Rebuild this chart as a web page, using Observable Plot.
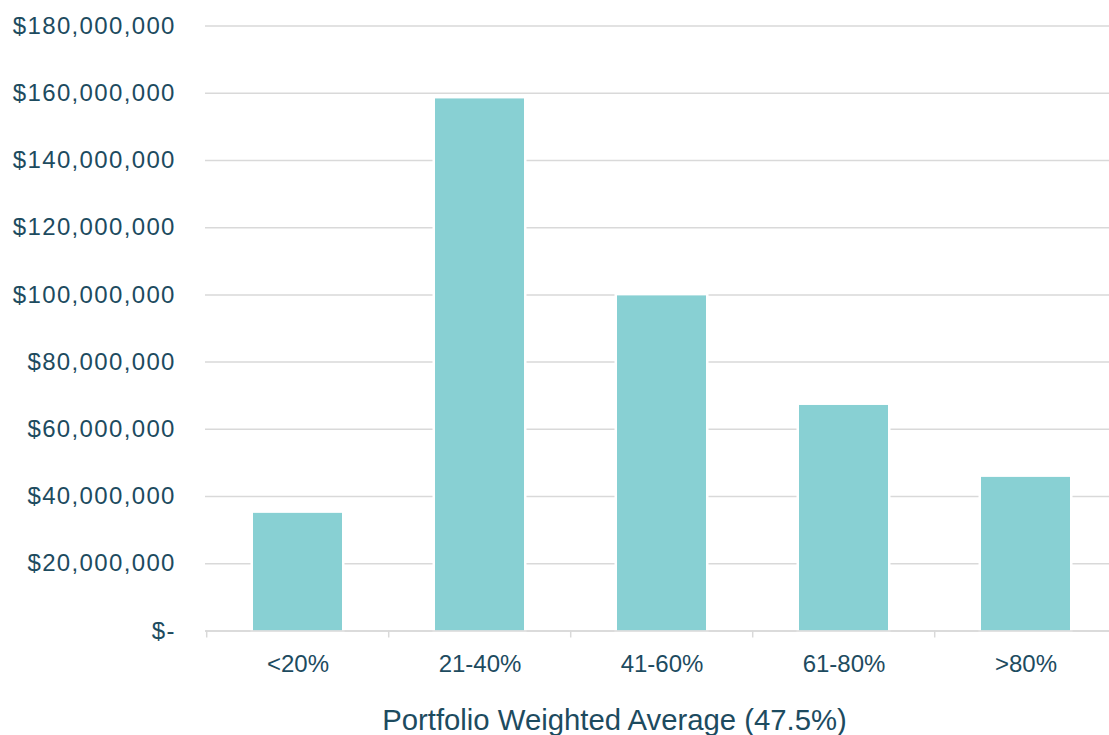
<!DOCTYPE html>
<html>
<head>
<meta charset="utf-8">
<script src="https://cdn.jsdelivr.net/npm/d3@7"></script>
<script src="https://cdn.jsdelivr.net/npm/@observablehq/plot@0.6"></script>
<style>
  html, body { margin: 0; padding: 0; background: #fff; }
  #chart { width: 1109px; height: 735px; overflow: hidden; }
  #chart [aria-label="y-axis tick label"] text { letter-spacing: 1.35px; }
</style>
</head>
<body>
<div id="chart"></div>
<script>
// Exposure by loan-to-value bucket
const buckets = ["<20%", "21-40%", "41-60%", "61-80%", ">80%"];
const amounts = [35000000, 158300000, 99700000, 67100000, 45700000];
const yTicks = [0, 20000000, 40000000, 60000000, 80000000, 100000000, 120000000, 140000000, 160000000, 180000000];
const axisTitle = "Portfolio Weighted Average (47.5%)";

const data = buckets.map((b, i) => ({bucket: b, amount: amounts[i]}));

const textColor = "#1d4b5f";
const gridColor = "#d9d9d9";
const barColor = "#88d0d3";

const width = 1109, height = 735;
const xRange = [205, 1118];
const bandW = (xRange[1] - xRange[0]) / buckets.length;

const money = d => d === 0 ? "$-" : "$" + d3.format(",")(d);

const chart = Plot.plot({
  width,
  height,
  marginLeft: 205,
  marginRight: 0,
  marginTop: 25.5,
  marginBottom: 104.5,
  style: {fontFamily: "'Liberation Sans', Arial, sans-serif", color: textColor, background: "#fff"},
  x: {domain: buckets, range: xRange, padding: 0.51, paddingOuter: 0.255, align: 0.5},
  y: {domain: [0, 180000000], range: [630.5, 25.5]},
  marks: [
    Plot.ruleY(yTicks, {stroke: gridColor, strokeWidth: 1.5, strokeOpacity: 1}),
    Plot.barY(data, {x: "bucket", y: "amount", fill: barColor, stroke: "#fff", strokeWidth: 5, paintOrder: "stroke"}),
    Plot.ruleY([0], {stroke: gridColor, strokeWidth: 1.5, strokeOpacity: 1}),
    // tick marks on the category boundaries
    Plot.axisX({tickSize: 7, tickFormat: () => "", dx: -bandW / 2, stroke: gridColor, strokeWidth: 1.5, strokeOpacity: 1, label: null}),
    Plot.axisX({tickSize: 0, tickPadding: 24, fontSize: 24, fill: textColor, label: null}),
    Plot.axisY({ticks: yTicks, tickFormat: money, tickSize: 0, tickPadding: 29.7, fontSize: 24, fill: textColor, label: null}),
    Plot.text([axisTitle], {frameAnchor: "bottom", text: d => d, dx: -43, dy: 99, lineAnchor: "bottom", fontSize: 29.3, fill: textColor})
  ]
});

document.getElementById("chart").appendChild(chart);
</script>
</body>
</html>
